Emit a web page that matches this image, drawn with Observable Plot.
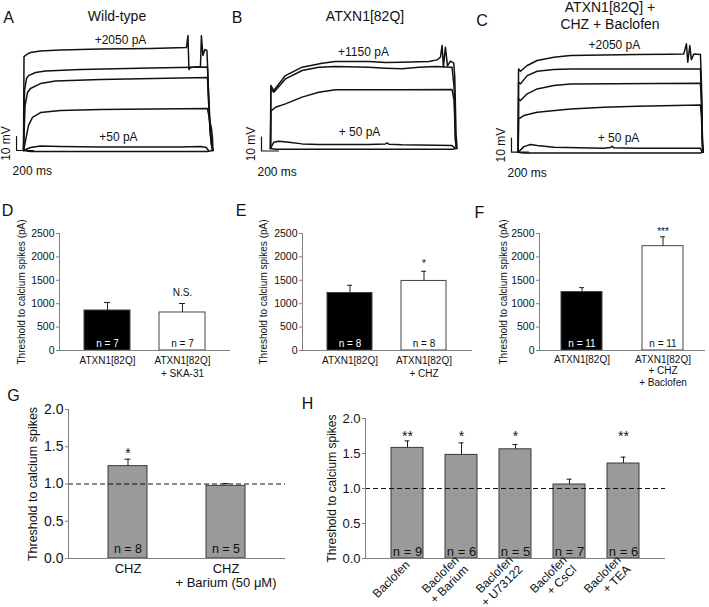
<!DOCTYPE html>
<html><head><meta charset="utf-8">
<script src="https://cdn.jsdelivr.net/npm/d3@7"></script>
<script src="https://cdn.jsdelivr.net/npm/@observablehq/plot@0.6"></script>
<style>
body{margin:0;background:#fff;}
#fig{position:relative;width:709px;height:607px;overflow:hidden;font-family:"Liberation Sans",Arial,sans-serif;color:#111;background:#fff;}
.lbl{position:absolute;white-space:nowrap;line-height:1;transform:translate(-50%,-50%);}
</style></head><body><div id="fig"></div>
<script>
// ---------- Panel A/B/C traces: [time ms, voltage mV relative to rest] ----------
const scaleMs = 200, scaleMv = 10;
const tracesA = [
  [[0,0],[6,67.1],[35,68.5],[82,70],[200,71],[435,71.8],[906,72.5],[1494,72.8],[1917,73.5],[1935,82.1],[1946,57.8],[1964,59.3],[2082,60],[2093,82],[2111,67.8],[2134,72.1],[2158,71.4],[2170,53.6],[2187,21.4],[2211,3.6],[2234,0]],
  [[0,0],[12,42.8],[35,51.4],[59,53.5],[141,55.7],[259,56.8],[670,57.8],[1494,58.9],[2164,59.6],[2176,42.8],[2199,14.3],[2223,0]],
  [[0,0],[18,32.1],[47,41.4],[82,44.3],[200,47.8],[376,49.6],[906,50.7],[2164,52.1],[2176,35.7],[2199,10.7],[2223,0]],
  [[0,0],[24,7.1],[59,17.9],[106,23.6],[200,27.1],[435,28.6],[906,29.3],[2164,30],[2187,22.8],[2211,15.7],[2223,9.3],[2229,0]],
  [[0,0],[82,2.1],[200,3.2],[435,2.9],[906,2.5],[1847,2.5],[2082,2.9],[2152,2.1],[2176,0]],
  [[0,0],[82,-0.7],[2164,-0.7],[2223,0]]
];
const tracesB = [
  [[0,0],[4,45],[39,41.4],[176,52.1],[372,58.1],[608,60.9],[764,62.1],[1156,62.1],[1352,61.4],[1548,61.6],[1862,62.1],[1960,63.3],[1999,65.2],[2019,73.5],[2034,58.1],[2058,72.4],[2082,59],[2117,62.4],[2156,60.9],[2168,50.9],[2183,10.5],[2195,0]],
  [[0,0],[4,42.6],[39,40.2],[176,49.7],[372,55.7],[568,58.1],[764,58.5],[1156,58.1],[1352,57.4],[1548,56.9],[1744,58.1],[1940,58.5],[2136,58.1],[2160,43.8],[2176,5.7],[2187,0]],
  [[0,0],[4,26.7],[59,29.5],[176,31.9],[372,36.7],[568,40.2],[764,41.9],[1156,41.9],[1548,41.9],[2136,42.1],[2160,34.3],[2176,5.7],[2187,0]],
  [[0,0],[39,4.5],[98,5.2],[216,4.5],[372,3.3],[568,2.9],[1156,2.9],[1352,3.3],[1372,4.0],[1392,3.1],[1548,2.6],[2136,2.1],[2176,0]],
  [[0,0],[60,-0.5],[2150,-0.5],[2176,0]]
];
const tracesC = [
  [[0,0],[4,59.5],[27,57.8],[106,61.9],[223,65.5],[419,67.8],[615,69],[1007,69.5],[1399,69.7],[1791,70],[1948,70.2],[1979,77.4],[1995,64.3],[2019,76.2],[2038,66],[2066,70.2],[2144,69.7],[2156,48.8],[2168,8.3],[2176,0]],
  [[0,0],[4,50],[27,48.8],[106,54.7],[223,57.8],[419,59],[615,59.5],[1399,59.5],[2144,59.5],[2156,41.7],[2168,6],[2176,0]],
  [[0,0],[4,38.1],[27,36.9],[106,41.7],[223,45.2],[419,47.6],[615,48.8],[2144,49.3],[2156,34.5],[2168,4.8],[2176,0]],
  [[0,0],[4,23.8],[67,26.2],[223,28.6],[615,30.9],[1007,32.1],[1399,32.8],[2144,33.8],[2156,25],[2168,3.6],[2176,0]],
  [[0,0],[67,4],[145,5.5],[223,4.8],[419,3.6],[1007,2.9],[1086,3.3],[1105,4.3],[1125,3.1],[1399,2.9],[2144,2.9],[2164,0]],
  [[0,0],[60,-0.5],[2150,-0.5],[2164,0]]
];
// current-step annotations: [label, time ms, mV]
const stepLabelsA = [["+2050 pA",1141,78.5],["+50 pA",1117,9.3]];
const stepLabelsB = [["+1150 pA",1094,68.5],["+ 50 pA",1047,11.4]];
const stepLabelsC = [["+2050 pA",1132,76.2],["+ 50 pA",1180,9.8]];
// scale-bar corner [ms, mV]
const barCornerA = [-82,0], barCornerB = [-106,-1.8], barCornerC = [-79,0];

// ---------- Panels D/E/F: threshold (pA) ----------
const yTicksPA = [0,500,1000,1500,2000,2500];
const catsD = ["ATXN1[82Q]","ATXN1[82Q]\n+ SKA-31"];
const valsD = [855, 812], errD = [1026, 1004], nD = [7, 7], sigD = ["", "N.S."];
const catsE = ["ATXN1[82Q]","ATXN1[82Q]\n+ CHZ"];
const valsE = [1229, 1486], errE = [1393, 1693], nE = [8, 8], sigE = ["", "*"];
const catsF = ["ATXN1[82Q]","ATXN1[82Q]\n+ CHZ\n+ Baclofen"];
const valsF = [1250, 2229], errF = [1343, 2429], nF = [11, 11], sigF = ["", "***"];

// ---------- Panels G/H: normalized threshold ----------
const yTicksNorm = [0,0.5,1,1.5,2];
const catsG = ["CHZ","CHZ\n+ Barium (50 μM)"];
const valsG = [1.24, 0.975], errG = [1.333, 1.007], nG = [8, 5], sigG = ["*", ""];
const catsH = ["Baclofen","Baclofen\n+ Barium","Baclofen\n+ U73122","Baclofen\n+ CsCl","Baclofen\n+ TEA"];
const valsH = [1.58, 1.48, 1.56, 1.057, 1.357], errH = [1.68, 1.652, 1.629, 1.133, 1.448], nH = [9, 6, 5, 7, 6], sigH = ["**","*","*","","**"];

const fig = document.getElementById("fig");
const FONT = '"Liberation Sans", Arial, sans-serif';
function place(el, left, top) {
  el.style.position = "absolute"; el.style.left = left + "px"; el.style.top = top + "px";
  fig.appendChild(el);
}
function label(text, x, y, size) {
  const d = document.createElement("div");
  d.className = "lbl"; d.textContent = text;
  d.style.left = x + "px"; d.style.top = y + "px"; d.style.fontSize = size + "px";
  fig.appendChild(d);
}

function tracePanel(c) {
  const pts = [];
  c.traces.forEach((tr, k) => tr.forEach(([t, v]) => pts.push({t, v, k})));
  const [bt, bv] = c.corner;
  const bar = [{t: bt, v: bv + scaleMv}, {t: bt, v: bv}, {t: bt + scaleMs, v: bv}];
  const steps = c.steps.map(([s, t, v]) => ({s, t, v}));
  const p = Plot.plot({
    width: c.w, height: 195, marginLeft: c.ml, marginRight: c.mr, marginTop: c.mt, marginBottom: 195 - 140 - c.mt,
    style: {background: "transparent", fontFamily: FONT, overflow: "visible"},
    x: {domain: [0, c.tMax], axis: null},
    y: {domain: [0, 100], axis: null},
    marks: [
      Plot.line(pts, {x: "t", y: "v", z: "k", stroke: "#111", strokeWidth: 1.5}),
      Plot.line(bar, {x: "t", y: "v", stroke: "#111", strokeWidth: 1.2}),
      Plot.text([{t: bt, v: bv + scaleMv / 2, s: scaleMv + " mV"}], {x: "t", y: "v", text: "s", rotate: -90, textAnchor: "middle", dx: -10, fontSize: 12, fill: "#111"}),
      Plot.text([{t: bt, v: bv, s: scaleMs + " ms"}], {x: "t", y: "v", text: "s", textAnchor: "start", dx: -4, dy: 21, fontSize: 12, fill: "#111"}),
      Plot.text(steps, {x: "t", y: "v", text: "s", fontSize: 12, fill: "#111"})
    ]
  });
  place(p, c.left, 0);
}

function barPanel(c) {
  const data = c.cats.map((cat, i) => ({cat, v: c.vals[i], e: c.errs[i], n: c.ns[i], s: c.sigs[i], f: c.fills[i], tc: c.tcs[i]}));
  const marks = [
    Plot.barY(data, {x: "cat", y: "v", fill: "f", stroke: c.barStroke, strokeWidth: 1}),
    Plot.ruleX(data, {x: "cat", y1: "v", y2: "e", stroke: "#222"}),
    Plot.tickY(data, {x: "cat", y: "e", stroke: "#222", insetLeft: c.cap, insetRight: c.cap}),
    Plot.ruleY([0], {stroke: "#808080"}),
    Plot.frame({anchor: "left", stroke: "#808080"}),
    Plot.axisY({ticks: c.yTicks, tickFormat: c.yFmt, tickSize: 3, tickPadding: 2, fontSize: c.tickFs, stroke: "#808080", fill: "#111", label: null}),
    Plot.axisX(Object.assign({tickSize: 0, tickPadding: c.xPad, fontSize: c.xFs, fill: "#111", label: null, lineHeight: c.lh}, c.xRot ? {tickRotate: c.xRot} : {})),
    Plot.text(data, {x: "cat", y: () => 0, text: d => "n = " + d.n, fill: "tc", dy: c.nDy, fontSize: c.nFs}),
    Plot.text([c.ytitle], {frameAnchor: "left", textAnchor: "middle", rotate: -90, dx: c.ytDx, fontSize: c.ytFs, fill: "#111"})
  ];
  if (c.dashed) marks.splice(4, 0, Plot.ruleY([1], {stroke: "#111", strokeDasharray: "5,3"}));
  if (c.sigTop) marks.push(Plot.text(data, {x: "cat", text: "s", frameAnchor: "top", dy: c.sigDy, fontSize: c.sigFs, fill: "#111"}));
  else marks.push(Plot.text(data, {x: "cat", y: "e", text: "s", dy: c.sigDy, fontSize: c.sigFs, fill: "#111"}));
  const p = Plot.plot({
    width: c.w, height: c.h, marginLeft: c.ml, marginRight: c.mr, marginTop: c.mt, marginBottom: c.mb,
    style: {background: "transparent", fontFamily: FONT, overflow: "visible"},
    x: {type: "band", domain: c.cats, paddingInner: c.pi, paddingOuter: c.po},
    y: {domain: c.yDomain},
    color: {type: "identity"},
    marks
  });
  place(p, c.left, c.top);
}

tracePanel({traces: tracesA, steps: stepLabelsA, corner: barCornerA, left: 0, w: 235, ml: 23, mr: 21.6, mt: 10, tMax: 2240});
tracePanel({traces: tracesB, steps: stepLabelsB, corner: barCornerB, left: 235, w: 235, ml: 35, mr: 13, mt: 8, tMax: 2200});
tracePanel({traces: tracesC, steps: stepLabelsC, corner: barCornerC, left: 470, w: 239, ml: 47.7, mr: 4.3, mt: 11.7, tMax: 2200});

const pA = "Threshold to calcium spikes (pA)";
const common1 = {h: 190, top: 200, mt: 33, mb: 40, yDomain: [0, 2500], yTicks: yTicksPA, yFmt: d => String(d),
  fills: ["#000", "#fff"], tcs: ["#fff", "#111"], barStroke: "#444", tickFs: 10.5, xFs: 10, xPad: 4, lh: 1.3,
  nDy: -7, nFs: 10, ytitle: pA, ytFs: 10, sigFs: 10};
barPanel(Object.assign({}, common1, {cats: catsD, vals: valsD, errs: errD, ns: nD, sigs: sigD, left: 0, w: 235, ml: 59, mr: 5, pi: 0.39, po: 0.33, cap: 20, ytDx: -38, sigDy: -11}));
barPanel(Object.assign({}, common1, {cats: catsE, vals: valsE, errs: errE, ns: nE, sigs: sigE, left: 235, w: 240, ml: 67, mr: 3, pi: 0.39, po: 0.33, cap: 20, ytDx: -39, sigDy: -7}));
barPanel(Object.assign({}, common1, {cats: catsF, vals: valsF, errs: errF, ns: nF, sigs: sigF, left: 470, w: 239, ml: 69, mr: 4, pi: 0.49, po: 0.26, cap: 18, ytDx: -36, sigDy: -5, lh: 1.15}));

const common2 = {yDomain: [0, 2], yTicks: yTicksNorm, yFmt: d3.format(".1f"), fills: ["#9a9a9a", "#9a9a9a", "#9a9a9a", "#9a9a9a", "#9a9a9a"],
  tcs: ["#111", "#111", "#111", "#111", "#111"], barStroke: "#3a3a3a", dashed: true, ytitle: "Threshold to calcium spikes"};
barPanel(Object.assign({}, common2, {cats: catsG, vals: valsG, errs: errG, ns: nG, sigs: sigG, left: 0, top: 380, w: 300, h: 227, ml: 68, mr: 15, mt: 29, mb: 49,
  pi: 0.6, po: 0.4, cap: 16.5, tickFs: 14, xFs: 13, xPad: 5, lh: 1.05, nDy: -10, nFs: 12.5, ytDx: -36, ytFs: 12.5, sigFs: 14, sigDy: -6}));
barPanel(Object.assign({}, common2, {cats: catsH, vals: valsH, errs: errH, ns: nH, sigs: sigH, left: 300, top: 390, w: 409, h: 217, ml: 65, mr: 44, mt: 28, mb: 49,
  pi: 0.4, po: 0.43, cap: 13.5, tickFs: 13, xFs: 12, xPad: 4, lh: 1.1, xRot: -45, nDy: -7, nFs: 13, ytDx: -33, ytFs: 12, sigFs: 14, sigTop: true, sigDy: 13}));

// panel letters and titles
[["A", 8.5, 17.5], ["B", 237, 17.5], ["C", 482, 20.5], ["D", 7.5, 210.5], ["E", 241, 210.5], ["F", 479.5, 212.5], ["G", 13.5, 395.5], ["H", 307.5, 403.5]]
  .forEach(([t, x, y]) => label(t, x, y, 16));
label("Wild-type", 117, 16, 14);
label("ATXN1[82Q]", 365, 16, 14);
label("ATXN1[82Q] +", 610, 7, 14);
label("CHZ + Baclofen", 610, 24, 14);
</script></body></html>
